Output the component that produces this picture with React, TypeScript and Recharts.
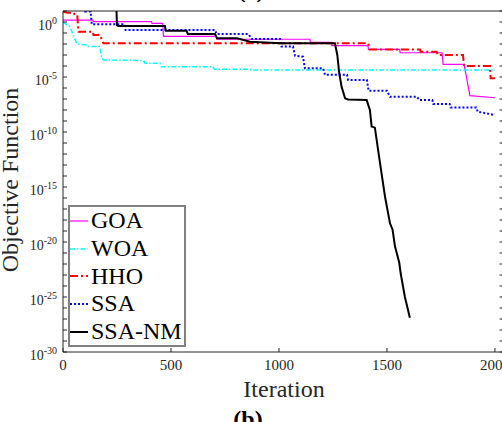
import React from 'react';
import { LineChart, Line, XAxis, YAxis, Legend } from 'recharts';

// iteration ticks and log-decade ticks
const xTicks = [0, 500, 1000, 1500, 2000];
const yDecades = [1, 0, -1, -2, -3, -4, -5, -6, -7, -8, -9, -10, -11, -12, -13, -14, -15, -16, -17, -18, -19, -20, -21, -22, -23, -24, -25, -26, -27, -28, -29, -30];
const yLabelExps = [0, -5, -10, -15, -20, -25, -30];

// [iteration, best objective]
const goaPts: [number, number][] = [
  [0, 1.5], [139, 1.5], [140, 1.07], [410, 1.07], [412, 0.76], [462, 0.76], [465, 0.05],
  [710, 0.05], [712, 0.027], [1143, 0.027], [1145, 0.014], [1243, 0.014], [1245, 0.007],
  [1412, 0.007], [1414, 0.0032], [1559, 0.0032], [1561, 0.0016], [1755, 0.0016], [1760, 1.4e-4],
  [1857, 1.4e-4], [1869, 8e-6], [1884, 2e-7], [2000, 1.3e-7],
];
const woaPts: [number, number][] = [
  [0, 1.0], [32, 0.37], [45, 0.093], [63, 0.0115], [71, 0.01], [110, 0.0081], [116, 0.0058],
  [171, 0.0058], [179, 5e-4], [190, 3.5e-4], [372, 3.2e-4], [380, 1.8e-4], [449, 1.8e-4],
  [455, 8.7e-5], [695, 8.7e-5], [700, 5e-5], [866, 5e-5], [870, 4.4e-5], [2000, 4.4e-5],
];
const hhoPts: [number, number][] = [
  [0, 8.7], [20, 7], [48, 7], [55, 4.4], [66, 4.4], [71, 0.19], [72, 0.13], [139, 0.13],
  [141, 0.066], [171, 0.066], [187, 0.0115], [1413, 0.0115], [1420, 0.0032], [1653, 0.0032],
  [1656, 0.002], [1730, 0.002], [1735, 0.001], [1852, 0.001], [1857, 1e-4], [1977, 1e-4],
  [1980, 7.9e-6], [2000, 7.9e-6],
];
const ssaPts: [number, number][] = [
  [0, 100], [95, 100], [102, 9], [128, 9], [133, 0.63], [285, 0.63], [290, 0.19], [704, 0.19],
  [711, 0.081], [858, 0.081], [874, 0.028], [1005, 0.028], [1012, 0.0058], [1065, 0.0058],
  [1074, 8.7e-4], [1111, 7e-4], [1120, 6.3e-5], [1204, 6.3e-5], [1213, 1.6e-5], [1315, 1.6e-5],
  [1320, 5.4e-6], [1407, 5.4e-6], [1415, 5.7e-7], [1500, 5.7e-7], [1514, 1.6e-7], [1639, 1.6e-7],
  [1650, 8e-8], [1710, 8e-8], [1715, 3.5e-8], [1790, 3.5e-8], [1795, 1.7e-8], [1914, 1.7e-8],
  [1920, 7e-9], [2000, 3.5e-9],
];
const ssaNmPts: [number, number][] = [
  [0, 100], [246, 100], [250, 0.5], [256, 0.44], [472, 0.44], [476, 0.16], [572, 0.16],
  [578, 0.081], [704, 0.081], [713, 0.033], [806, 0.033], [866, 0.016], [1005, 0.0115],
  [1259, 0.0115], [1270, 1e-3], [1279, 2.3e-5], [1290, 1.26e-6], [1306, 1.15e-7], [1320, 9e-8],
  [1406, 8e-8], [1421, 1e-8], [1429, 3.2e-10], [1444, 2.5e-10], [1468, 1.4e-13], [1491, 1.3e-16],
  [1514, 5e-19], [1526, 1.3e-19], [1537, 4e-21], [1557, 1.3e-22], [1563, 1.6e-23], [1583, 1e-25],
  [1606, 1.3e-27],
];

const series = [
  { name: 'GOA', pts: goaPts, color: '#FF00FF', width: 1.2, dash: undefined as string | undefined },
  { name: 'WOA', pts: woaPts, color: '#00FFFF', width: 1.5, dash: '5 2 1.5 2' },
  { name: 'HHO', pts: hhoPts, color: '#FF0000', width: 2, dash: '8 3 2 3' },
  { name: 'SSA', pts: ssaPts, color: '#0000FF', width: 2, dash: '2 2' },
  { name: 'SSA-NM', pts: ssaNmPts, color: '#000000', width: 2, dash: undefined },
];

const axisColor = '#262626';
const serif = '"Liberation Serif", "Times New Roman", serif';
const yTicks = yDecades.map((e) => Math.pow(10, e));

const LeftTick = (props: any) => {
  const { x, y, payload } = props;
  const e = Math.round(Math.log10(payload.value));
  return (
    <g>
      <line x1={x} x2={x + 4} y1={y} y2={y} stroke={axisColor} strokeWidth={1} />
      {yLabelExps.includes(e) && (
        <text x={x - 6} y={y + 8} textAnchor="end" fontFamily={serif} fontSize={14} fill={axisColor}>
          10<tspan dy={-6} fontSize={10}>{String(e)}</tspan>
        </text>
      )}
    </g>
  );
};

const RightTick = (props: any) => {
  const { x, y } = props;
  return <line x1={x - 4} x2={x} y1={y} y2={y} stroke={axisColor} strokeWidth={1} />;
};

const BottomTick = (props: any) => {
  const { x, y, payload } = props;
  return (
    <g>
      <line x1={x} x2={x} y1={y - 4} y2={y} stroke={axisColor} strokeWidth={1} />
      <text x={x} y={y + 18} textAnchor="middle" fontFamily={serif} fontSize={15} fill={axisColor}>
        {payload.value}
      </text>
    </g>
  );
};

const TopTick = (props: any) => {
  const { x, y } = props;
  return <line x1={x} x2={x} y1={y} y2={y + 4} stroke={axisColor} strokeWidth={1} />;
};

const LegendBox = () => (
  <div
    style={{
      border: '2px solid #808080',
      background: '#fff',
      width: 114,
      fontFamily: serif,
      fontSize: 24,
      color: '#000',
    }}
  >
    {series.map((s) => (
      <div key={s.name} style={{ display: 'flex', alignItems: 'center', height: 27.7 }}>
        <svg width={18} height={10}>
          <line x1={0} x2={18} y1={5} y2={5} stroke={s.color} strokeWidth={s.width} strokeDasharray={s.dash} />
        </svg>
        <span style={{ marginLeft: 3, lineHeight: '27px' }}>{s.name}</span>
      </div>
    ))}
  </div>
);

export default function App() {
  return (
    <div style={{ position: 'absolute', left: 0, top: 0, width: 502, height: 422, overflow: 'hidden', background: '#fff' }}>
      <LineChart width={520} height={440} margin={{ top: 10, left: 62, right: 15.4, bottom: 87 }}>
        <XAxis
          type="number"
          dataKey="iter"
          domain={[0, 2040]}
          ticks={xTicks}
          interval={0}
          allowDataOverflow
          height={1}
          tickSize={0}
          tickMargin={0}
          tick={<BottomTick />}
          axisLine={{ stroke: axisColor }}
          tickLine={false}
        />
        <XAxis
          xAxisId="top"
          orientation="top"
          type="number"
          domain={[0, 2040]}
          ticks={xTicks}
          interval={0}
          allowDataOverflow
          height={1}
          tickSize={0}
          tickMargin={0}
          tick={<TopTick />}
          axisLine={{ stroke: axisColor }}
          tickLine={false}
        />
        <YAxis
          scale="log"
          type="number"
          domain={[1e-30, 10]}
          ticks={yTicks}
          interval={0}
          allowDataOverflow
          width={1}
          tickSize={0}
          tickMargin={0}
          tick={<LeftTick />}
          axisLine={{ stroke: axisColor }}
          tickLine={false}
        />
        <YAxis
          yAxisId="right"
          orientation="right"
          scale="log"
          type="number"
          domain={[1e-30, 10]}
          ticks={yTicks}
          interval={0}
          allowDataOverflow
          width={1}
          tickSize={0}
          tickMargin={0}
          tick={<RightTick />}
          axisLine={{ stroke: axisColor }}
          tickLine={false}
        />
        {series.map((s) => (
          <Line
            key={s.name}
            name={s.name}
            data={s.pts.map(([iter, v]) => ({ iter, v }))}
            dataKey="v"
            type="linear"
            stroke={s.color}
            strokeWidth={s.width}
            strokeDasharray={s.dash}
            strokeLinecap="butt"
            dot={false}
            activeDot={false}
            isAnimationActive={false}
          />
        ))}
        <Legend
          layout="vertical"
          align="center"
          verticalAlign="middle"
          content={<LegendBox />}
          wrapperStyle={{ left: 68, top: 205, width: 118, right: 'auto', bottom: 'auto' }}
        />
      </LineChart>
      <svg width={502} height={422} style={{ position: 'absolute', left: 0, top: 0, pointerEvents: 'none' }}>
        <text x={251} y={-2} textAnchor="middle" fontFamily={serif} fontWeight="bold" fontSize={22} fill="#000">(a)</text>
        <text
          x={18}
          y={180}
          textAnchor="middle"
          fontFamily={serif}
          fontSize={24}
          fill={axisColor}
          transform="rotate(-90, 18, 180)"
        >
          Objective Function
        </text>
        <text x={284} y={397} textAnchor="middle" fontFamily={serif} fontSize={24} fill={axisColor}>Iteration</text>
        <text x={248} y={427} textAnchor="middle" fontFamily={serif} fontWeight="bold" fontSize={24} fill="#000">(b)</text>
      </svg>
    </div>
  );
}
